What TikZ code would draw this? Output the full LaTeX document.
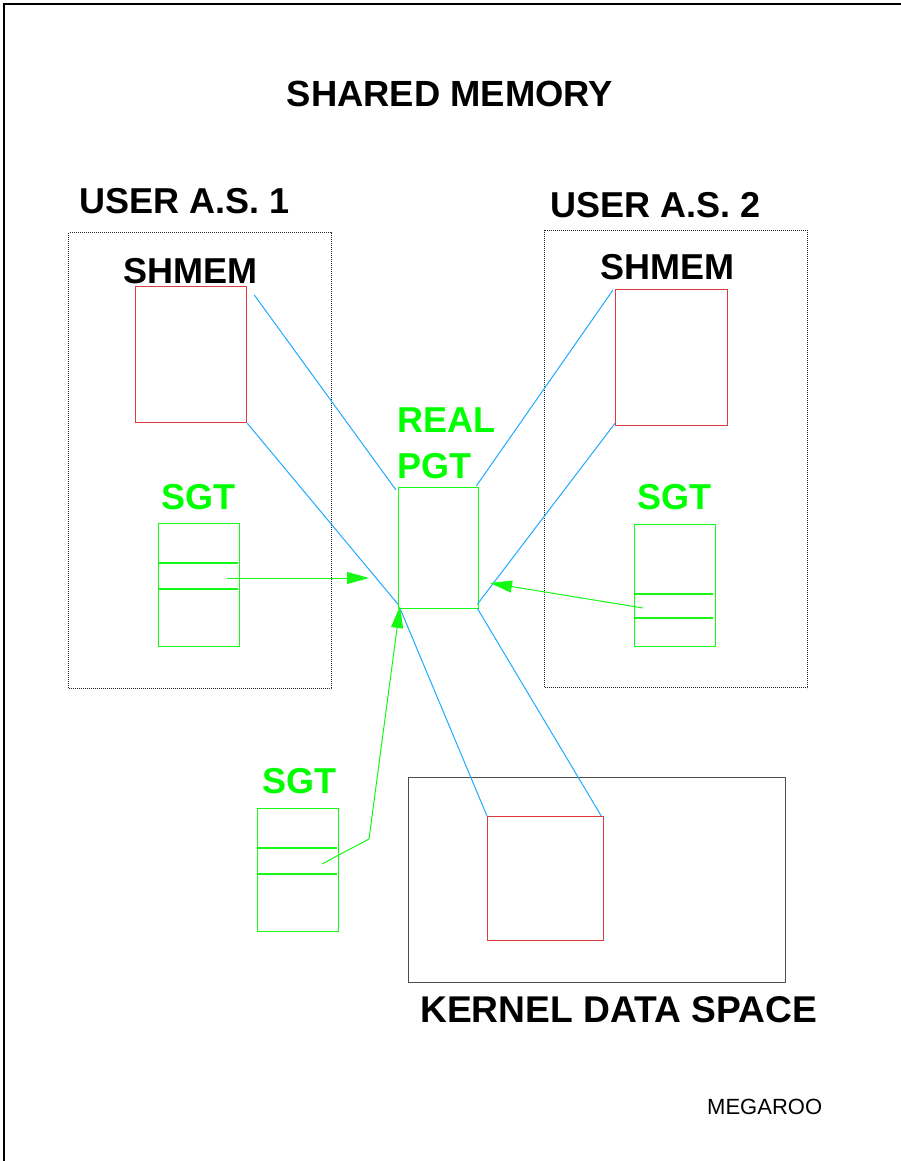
\documentclass[tikz,border=0pt]{standalone}
\usepackage{fontspec}
\setmainfont{Liberation Sans}
\usetikzlibrary{arrows.meta,calc}
\definecolor{bline}{RGB}{30,170,255}
\definecolor{gline}{RGB}{20,250,20}
\definecolor{gtext}{RGB}{0,255,0}
\definecolor{rbox}{RGB}{220,60,60}
\definecolor{dotc}{RGB}{40,40,40}
\tikzset{
  box/.style={draw, inner sep=0pt, anchor=north west},
  dotbox/.style={box, draw=dotc, line width=1.1pt, dash pattern=on 1pt off 1pt},
  redbox/.style={box, draw=rbox, line width=1.3pt},
  greenbox/.style={box, draw=gline, line width=1.3pt},
  blackbox/.style={box, draw=black!70, line width=1.3pt},
  row/.style={draw=gline, line width=1.2pt},
  link/.style={draw=bline, line width=1pt},
  garrow/.style={draw=gline, line width=1pt, -{Triangle[length=22pt,width=12pt]}},
  btitle/.style={font=\fontsize{36}{40}\selectfont\bfseries, inner sep=0pt},
  blabel/.style={btitle, anchor=base west},
  glabel/.style={blabel, text=gtext},
}
\begin{document}
\begin{tikzpicture}[x=1pt,y=-1pt]
\useasboundingbox (0,0) rectangle (901,1161);
% page border
\coordinate (pb1) at (4,1161);
\coordinate (pb2) at (4,4);
\coordinate (pb3) at (901,4);
\draw[line width=1.2pt] (pb1) -- (pb2) -- (pb3);

\node[btitle, anchor=base, font=\fontsize{36.4}{40}\selectfont\bfseries] (title) at (450,107) {SHARED MEMORY};

% user address space 1
\node[blabel] (u1) at (79,213) {USER A.S. 1};
\node[dotbox, minimum width=263pt, minimum height=456pt] (dot1) at (68,232) {};
\node[blabel] (sh1) at (123,283) {SHMEM};
\node[redbox, minimum width=111pt, minimum height=136pt] (red1) at (135,286) {};
\node[glabel] (sg1) at (161,509) {SGT};
\node[greenbox, minimum width=81pt, minimum height=123pt] (sgt1) at (158,523) {};
\draw[row] ($(sgt1.north west)+(0,40)$) -- ($(sgt1.north east)+(-2,40)$);
\draw[row] ($(sgt1.north west)+(0,66)$) -- ($(sgt1.north east)+(-2,66)$);

% user address space 2
\node[blabel] (u2) at (550,217) {USER A.S. 2};
\node[dotbox, minimum width=263pt, minimum height=457pt] (dot2) at (544,230) {};
\node[blabel] (sh2) at (600,279) {SHMEM};
\node[redbox, minimum width=112pt, minimum height=136pt] (red2) at (615,289) {};
\node[glabel] (sg2) at (637,509) {SGT};
\node[greenbox, minimum width=81pt, minimum height=122pt] (sgt2) at (634,524) {};
\draw[row] ($(sgt2.north west)+(0,70)$) -- ($(sgt2.north east)+(-3,70)$);
\draw[row] ($(sgt2.north west)+(0,94)$) -- ($(sgt2.north east)+(-3,94)$);

% real page table
\node[glabel] (real) at (397,432) {REAL};
\node[glabel] (pgtl) at (397,478) {PGT};
\node[greenbox, minimum width=80pt, minimum height=121pt] (pgt) at (398,487) {};

% kernel data space
\node[blackbox, minimum width=377pt, minimum height=205pt] (kern) at (408,777) {};
\node[redbox, minimum width=116pt, minimum height=124pt] (red3) at (487,816) {};
\node[blabel, font=\fontsize{37.2}{40}\selectfont\bfseries] (kl) at (420,1022) {KERNEL DATA SPACE};

% free segment table
\node[glabel] (sg3) at (262,793) {SGT};
\node[greenbox, minimum width=81pt, minimum height=123pt] (sgt3) at (257,808) {};
\draw[row] ($(sgt3.north west)+(0,40)$) -- ($(sgt3.north east)+(-2,40)$);
\draw[row] ($(sgt3.north west)+(0,66)$) -- ($(sgt3.north east)+(-2,66)$);

\node[anchor=base west, inner sep=0pt, font=\fontsize{22}{26}\selectfont] (mega) at (707,1114) {MEGAROO};

% blue mapping lines
\draw[link] ($(red1.north east)+(7,9)$) -- ($(pgt.north west)+(-2,3)$);
\draw[link] (red1.south east) -- ($(pgt.south west)+(0,-5)$);
\draw[link] ($(pgt.south west)+(2,-1)$) -- (red3.north west);
\draw[link] ($(pgt.north east)+(-3,-1)$) -- ($(red2.north west)+(-2,1)$);
\draw[link] ($(red2.south west)+(0,-3)$) -- ($(pgt.south east)+(-2,-5)$);
\draw[link] ($(pgt.south east)+(-2,-1)$) -- ($(red3.north east)+(-3,0)$);

% green pointers
\coordinate (a1s) at (227,578);
\coordinate (a1e) at (369,578);
\draw[garrow] (a1s) -- (a1e);
\coordinate (a2s) at (643,608);
\coordinate (a2e) at (490,583);
\draw[garrow] (a2s) -- (a2e);
\coordinate (a3s) at (322,864);
\coordinate (a3m) at (369,839);
\coordinate (a3e) at (400,606);
\draw[garrow] (a3s) -- (a3m) -- (a3e);
\end{tikzpicture}
\end{document}
